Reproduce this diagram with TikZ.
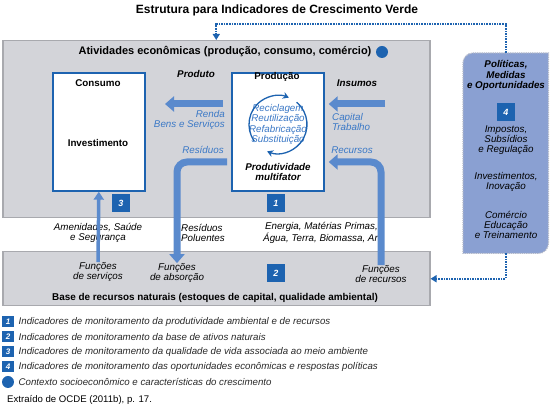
\documentclass[tikz,border=0pt]{standalone}
\usepackage{fontspec}
\setmainfont{Liberation Sans}
\usetikzlibrary{arrows.meta,positioning,calc}
\definecolor{boxgray}{RGB}{211,212,217}
\definecolor{edgegray}{RGB}{168,169,174}
\definecolor{darkblue}{RGB}{29,99,176}
\definecolor{arrblue}{RGB}{90,138,205}
\definecolor{txtblue}{RGB}{58,120,198}
\definecolor{polfill}{RGB}{138,160,210}
\definecolor{poledge}{RGB}{178,184,200}
\definecolor{legtext}{RGB}{40,40,40}

\begin{document}
\begin{tikzpicture}[x=1pt,y=-1pt,
  graybox/.style={draw=edgegray,fill=boxgray,line width=1.5pt,inner sep=0},
  whitebox/.style={draw=darkblue,fill=white,line width=1.7pt,inner sep=0},
  badge/.style={fill=darkblue,text=white,font=\bfseries\itshape\fontsize{9}{9}\selectfont,minimum size=18pt,inner sep=0},
  legbadge/.style={badge,minimum width=12pt,minimum height=11pt,font=\bfseries\itshape\fontsize{8}{8}\selectfont},
  ctxdot/.style={circle,fill=darkblue,minimum size=12pt,inner sep=0},
  lbl/.style={font=\itshape\fontsize{9.8}{10.3}\selectfont,align=center,inner sep=0},
  bluelbl/.style={lbl,text=txtblue},
  lgtxt/.style={font=\itshape\fontsize{9.7}{10.3}\selectfont,text=legtext,inner sep=0},
  hdr/.style={font=\bfseries\fontsize{9.8}{10.5}\selectfont,inner sep=0},
  bolditl/.style={font=\bfseries\itshape\fontsize{9.8}{10.3}\selectfont,align=center,inner sep=0},
  bigarr/.style={draw=arrblue,line width=7pt,-{Triangle[width=15pt,length=9pt]}},
  thinarr/.style={draw=arrblue,line width=3.5pt,-{Triangle[width=10pt,length=8pt]}},
  recyc/.style={draw=darkblue,line width=1.3pt,-{Stealth[width=7pt,length=6pt]}},
  dotline/.style={draw=darkblue,line width=1.6pt,dash pattern=on 1.6pt off 1pt,-{Triangle[width=7pt,length=6pt]}},
  polbox/.style={draw=poledge,fill=polfill,line width=1.2pt,dash pattern=on 1.2pt off 1pt}]
\useasboundingbox (0,0) rectangle (550,411);

\node[font=\bfseries\fontsize{12}{14}\selectfont] (title) at (277,10) {Estrutura para Indicadores de Crescimento Verde};

% atividades economicas
\node[graybox,anchor=north west,minimum width=427pt,minimum height=177pt] (eco) at (2,40) {};
\node[hdr,font=\bfseries\fontsize{11}{12}\selectfont] (ecotitle) at (225,52) {Atividades econômicas (produção, consumo, comércio)};
\node[ctxdot] (ecodot) at (382,52) {};

\node[whitebox,anchor=north west,minimum width=92pt,minimum height=118pt] (cons) at (52,72) {};
\node[hdr] (consumo) at (98,83) {Consumo};
\node[hdr] (invest) at (98,143) {Investimento};

\node[whitebox,anchor=north west,minimum width=92pt,minimum height=118pt] (prod) at (231,72) {};
\node[hdr] (producao) at (277,77) {Produção};
\node[bluelbl] (recyc) at (278,124.5) {Reciclagem\\Reutilização\\Refabricação\\Substituição};
\draw[recyc] ([shift={(215:29pt)}]recyc.center) arc[start angle=215,end angle=68,radius=29pt];
\draw[recyc] ([shift={(50:29pt)}]recyc.center) arc[start angle=50,end angle=-112,radius=29pt];
\node[bolditl] (pmf) at (278,172) {Produtividade\\multifator};

\node[bolditl] (produto) at (196,74) {Produto};
\node[bolditl] (insumos) at (357,83) {Insumos};
\node[bluelbl,align=right,anchor=east] (renda) at (225,120) {Renda\\Bens e Serviços};
\node[bluelbl,align=left,anchor=west] (capital) at (332,122) {Capital\\Trabalho};
\node[bluelbl] (resid) at (203,150) {Resíduos};
\node[bluelbl] (recur) at (352,150) {Recursos};

\node[badge] (b3) at (121,203) {3};
\node[badge] (b1) at (276,203) {1};

% base de recursos
\node[graybox,anchor=north west,minimum width=427pt,minimum height=54pt] (base) at (2,251) {};
\node[hdr,font=\bfseries\fontsize{9.9}{11}\selectfont] (basetxt) at (215,298) {Base de recursos naturais (estoques de capital, qualidade ambiental)};
\node[lbl] (fserv) at (98,272) {Funções\\de serviços};
\node[lbl] (fabs) at (177,273) {Funções\\de absorção};
\node[lbl] (frec) at (381,274) {Funções\\de recursos};
\node[badge] (b2) at (276,273) {2};

\node[lbl] (amen) at (98,233) {Amenidades, Saúde\\e Segurança};
\node[lbl,align=left,anchor=west] (polu) at (181,233) {Resíduos\\Poluentes};
\node[lbl,align=right,anchor=east] (energ) at (378,233) {Energia, Matérias Primas,\\Água, Terra, Biomassa, Ar};

% fluxos
\coordinate (rendaT) at (223,104);
\coordinate (rendaH) at (165,104);
\coordinate (insT) at (385,104);
\coordinate (resT) at (227,162);
\draw[bigarr] (rendaT) -- (rendaH);
\draw[bigarr,shorten >=4pt] (insT) -- (insT -| prod.east);
\draw[bigarr,rounded corners=10pt] (resT) -| (fabs.north);
\draw[bigarr,rounded corners=10pt,shorten >=4pt] (frec.north) |- (resT -| prod.east);
\draw[thinarr] (fserv.north) -- (cons.south);

% politicas
\node[anchor=north west,minimum width=85pt,minimum height=200pt,inner sep=0] (pol) at (463,53) {};
\draw[polbox] (pol.west) [rounded corners=10pt] -- (pol.north west) [sharp corners] -- (pol.north east) [rounded corners=10pt] -- (pol.south east) [sharp corners] -- (pol.south west) -- cycle;
\node[bolditl] (poltitle) at (506,75.5) {Políticas,\\Medidas\\e Oportunidades};
\node[badge] (b4) at (506,112) {4};
\node[lbl] (pol1) at (506,140) {Impostos,\\Subsídios\\e Regulação};
\node[lbl] (pol2) at (506,182) {Investimentos,\\Inovação};
\node[lbl] (pol3) at (506,225) {Comércio\\Educação\\e Treinamento};
\draw[dotline] (pol.north) -- ++(0,-29) -| (eco.north);
\draw[dotline] (pol.south) |- (base.east);

% legenda
\foreach \n/\txt in {1/Indicadores de monitoramento da produtividade ambiental e de recursos,
  2/Indicadores de monitoramento da base de ativos naturais,
  3/Indicadores de monitoramento da qualidade de vida associada ao meio ambiente,
  4/Indicadores de monitoramento das oportunidades econômicas e respostas políticas}{
  \node[legbadge] (leg\n) at (8,{322+15*(\n-1)}) {\n};
  \node[lgtxt,anchor=west] (legtxt\n) at (18.5,{322+15*(\n-1)}) {\txt};
}
\node[ctxdot] (legdot) at (8,382) {};
\node[lgtxt,anchor=west] (legdottxt) at (18.5,382) {Contexto socioeconômico e características do crescimento};
\node[font=\fontsize{9.6}{10}\selectfont,anchor=west,inner sep=0] (fonte) at (7,400) {Extraído de OCDE (2011b), p. 17.};
\end{tikzpicture}
\end{document}
